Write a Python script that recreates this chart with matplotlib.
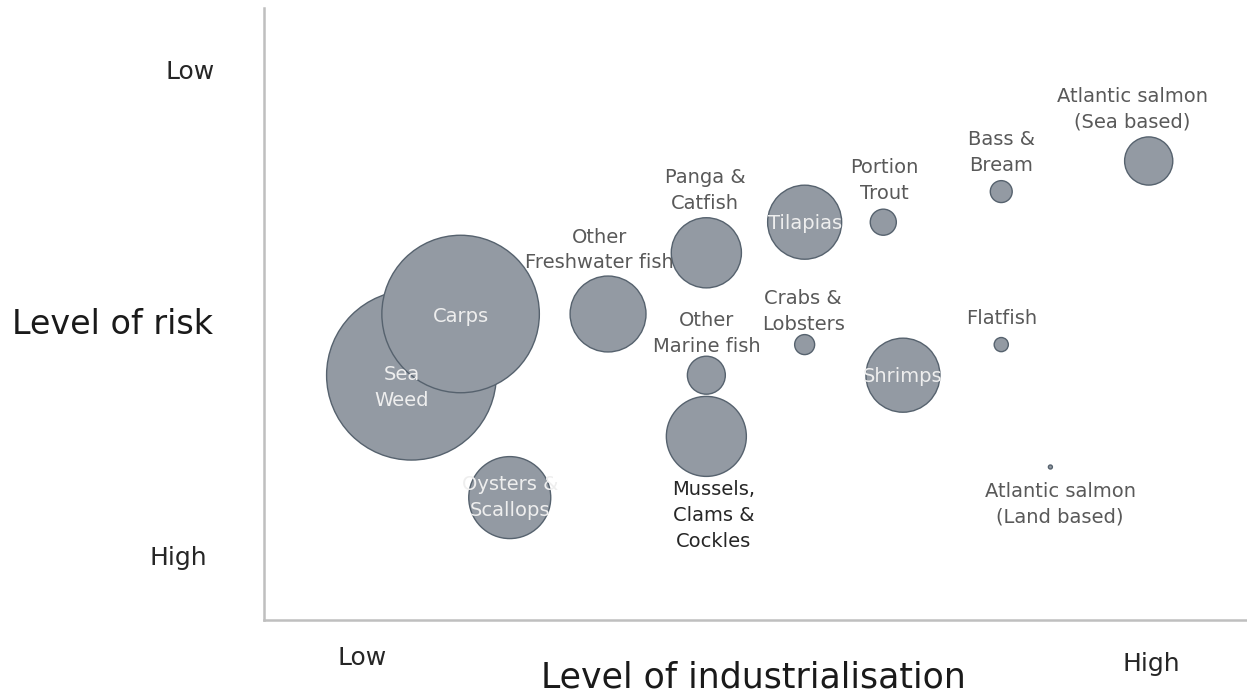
import matplotlib
matplotlib.use("Agg")
import matplotlib.pyplot as plt

# bubble data: level of industrialisation (x), level of risk (y, low risk = top), bubble size
species = [
    "Sea\nWeed", "Carps", "Oysters &\nScallops", "Other\nFreshwater fish",
    "Panga &\nCatfish", "Other\nMarine fish", "Mussels,\nClams &\nCockles",
    "Tilapias", "Crabs &\nLobsters", "Portion\nTrout", "Shrimps",
    "Bass &\nBream", "Flatfish", "Atlantic salmon\n(Sea based)",
    "Atlantic salmon\n(Land based)",
]
industrialisation = [1.5, 2.0, 2.5, 3.5, 4.5, 4.5, 4.5, 5.5, 5.5, 6.3, 6.5, 7.5, 7.5, 9.0, 8.0]
risk = [8, 10, 4, 10, 12, 8, 6, 13, 9, 13, 8, 14, 9, 15, 5]
size = [72, 62, 16.8, 14.4, 12.3, 3.6, 16, 13.7, 1.0, 1.7, 13.7, 1.2, 0.5, 5.8, 0.04]

# label placement (offset in points from bubble centre) and whether it sits inside the bubble
label_offset = [(-7, -9), (0, -2), (0, 0), (-6, 46), (-1, 45), (0, 30), (5, -57),
                (0, -1), (-1, 24), (1, 30), (0, -1), (0, 28), (0, 19), (-12, 37), (7, -27)]
inside = [True, True, True, False, False, False, False,
          True, False, False, True, False, False, False, False]

fig = plt.figure(figsize=(12.47, 7.0), dpi=100)
ax = fig.add_axes([264 / 1247, 80 / 700, 983 / 1247, 612 / 700])
ax.set_xlim(0, 10)
ax.set_ylim(0, 20)

ax.scatter(industrialisation, risk, s=[v * 207.4 for v in size],
           color="#939aa3", edgecolor="#56626e", linewidth=1.0, zorder=3)

for name, x, y, off, ins in zip(species, industrialisation, risk, label_offset, inside):
    if ins:
        col = "#eeeeee"
    elif name.startswith("Mussels"):
        col = "#262626"
    else:
        col = "#595959"
    ax.annotate(name, (x, y), xytext=off, textcoords="offset points",
                ha="center", va="center", multialignment="center",
                fontsize=14, color=col, zorder=5, linespacing=1.45)

for side in ["top", "right"]:
    ax.spines[side].set_visible(False)
for side in ["left", "bottom"]:
    ax.spines[side].set_color("#bfbfbf")
    ax.spines[side].set_linewidth(1.8)
ax.set_xticks([])
ax.set_yticks([])

fig.text(190 / 1247, 1 - 72 / 700, "Low", ha="center", va="center", fontsize=18, color="#262626")
fig.text(178 / 1247, 1 - 558 / 700, "High", ha="center", va="center", fontsize=18, color="#262626")
fig.text(112 / 1247, 1 - 325 / 700, "Level of risk", ha="center", va="center", fontsize=24, color="#1a1a1a")
fig.text(362 / 1247, 1 - 658 / 700, "Low", ha="center", va="center", fontsize=18, color="#262626")
fig.text(1151 / 1247, 1 - 664 / 700, "High", ha="center", va="center", fontsize=18, color="#262626")
fig.text(753 / 1247, 1 - 678 / 700, "Level of industrialisation", ha="center", va="center",
         fontsize=25, color="#1a1a1a")

fig.savefig("out.png", dpi=100)
